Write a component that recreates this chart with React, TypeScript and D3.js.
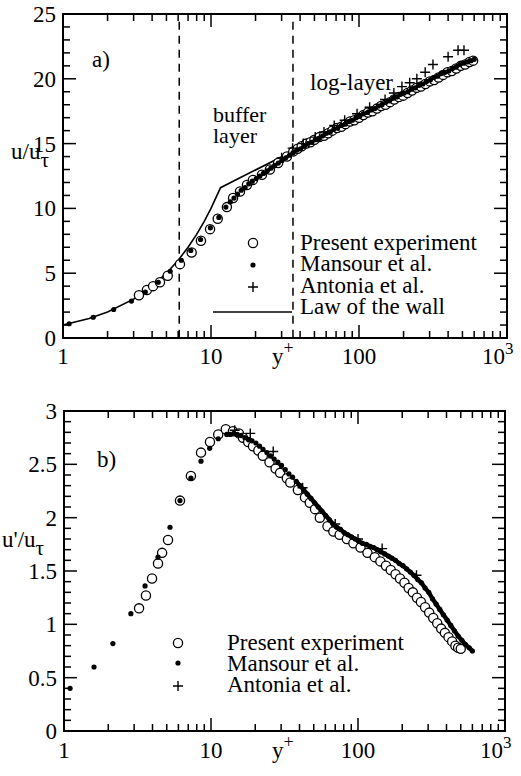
import React from 'react';
import * as d3 from 'd3';

// ---------- data: panel a) mean velocity ----------
const presentTop: [number, number][] = [
  [3.26, 3.3], [3.69, 3.7], [4.06, 4.0], [4.52, 4.3], [5.1, 4.8], [6.17, 5.7], [7.4, 6.6], [8.55, 7.5],
  [9.85, 8.4], [11.1, 9.2], [12.8, 10.1], [14.1, 10.8], [15.7, 11.3], [17.5, 11.8], [19.2, 12.2], [22.1, 12.6],
  [25, 13.0], [28.4, 13.5], [32.6, 14.0], [36, 14.4], [38.5, 14.6], [41, 14.8], [44, 15.0], [47, 15.1],
  [50, 15.3], [54, 15.5], [58, 15.6], [62, 15.8], [66, 16.0], [71, 16.2], [76, 16.3], [81, 16.5],
  [87, 16.7], [93, 16.8], [100, 17.0], [107, 17.2], [115, 17.4], [123, 17.5], [132, 17.7], [141, 17.9],
  [151, 18.0], [162, 18.2], [173, 18.4], [186, 18.6], [199, 18.7], [213, 18.9], [228, 19.1], [245, 19.3],
  [262, 19.4], [281, 19.6], [301, 19.8], [322, 19.9], [345, 20.1], [370, 20.3], [396, 20.5], [424, 20.6],
  [454, 20.8], [487, 21.0], [521, 21.1], [558, 21.3], [590, 21.4],
];
const mansourTop: [number, number][] = [
  [1.1, 1.1], [1.6, 1.6], [2.2, 2.2], [2.9, 2.85], [3.6, 3.55], [4.4, 4.3], [5.3, 5.15], [6.3, 6.0],
  [7.3, 6.75], [8.5, 7.6], [9.9, 8.5], [11.3, 9.3], [12.6, 10.1],
  [13.5, 10.5], [14.3, 10.8], [15.1, 11.1], [16, 11.4], [17, 11.6], [18, 11.9], [19, 12.1], [20.2, 12.3],
  [21.4, 12.5], [22.6, 12.7], [24, 12.9], [25.4, 13.1], [26.9, 13.3], [28.5, 13.5], [30.2, 13.7], [32, 13.9],
  [33.9, 14.1], [35.9, 14.3], [38, 14.5], [40.3, 14.6], [42.7, 14.8], [45.2, 15.0], [47.9, 15.1], [50.7, 15.3],
  [53.7, 15.4], [56.9, 15.6], [60.3, 15.8], [63.9, 15.9], [67.7, 16.1], [71.7, 16.2], [76, 16.4], [80.5, 16.5],
  [85.3, 16.7], [90.3, 16.8], [95.7, 17.0], [101, 17.1], [107, 17.3], [114, 17.4], [121, 17.6], [128, 17.7],
  [135, 17.9], [143, 18.0], [152, 18.2], [161, 18.3], [170, 18.5], [180, 18.6], [191, 18.8], [202, 18.9],
  [214, 19.0], [227, 19.2], [240, 19.3], [255, 19.5], [270, 19.6], [286, 19.8], [303, 19.9], [321, 20.1],
  [340, 20.2], [360, 20.4], [381, 20.5], [404, 20.6], [428, 20.8], [453, 20.9], [480, 21.1], [509, 21.2],
  [539, 21.3], [571, 21.4], [600, 21.5],
];
const antoniaTop: [number, number][] = [
  [30, 13.9], [35.6, 14.65], [42, 15.0], [50.6, 15.5], [58, 15.9], [68, 16.4], [80, 16.8], [97, 17.3],
  [118, 17.8], [150, 18.4], [172, 18.9], [195, 19.4], [220, 19.7], [246, 20.0], [280, 20.5], [316, 21.1],
  [400, 21.7], [467, 22.2], [512, 22.2],
];
const lawOfWall: [number, number][] = [
  [1, 1], [1.5, 1.5], [2, 2], [3, 3], [4, 4], [5, 5], [6, 6], [7, 7], [8, 8], [9, 9], [10, 10], [11.6, 11.6], [600, 21.5],
];
const layerBounds = [6.1, 35.8];

// ---------- data: panel b) rms velocity ----------
const presentBot: [number, number][] = [
  [3.24, 1.15], [3.61, 1.27], [3.97, 1.43], [4.36, 1.57], [4.65, 1.67], [5.1, 1.79], [6.15, 2.16], [7.3, 2.39],
  [8.55, 2.61], [9.84, 2.71], [11.2, 2.78], [12.6, 2.83], [14.1, 2.81], [15.5, 2.79], [16.5, 2.75], [17.9, 2.71],
  [19.3, 2.67], [21, 2.63], [22.5, 2.58], [25, 2.52], [27.5, 2.46], [29.5, 2.42], [32.8, 2.37], [34.6, 2.33],
  [39, 2.26], [43.6, 2.19], [47, 2.14], [51, 2.08], [55, 2.0], [62, 1.92], [68, 1.87], [75, 1.84],
  [84, 1.8], [93, 1.76], [104, 1.72], [116, 1.67], [130, 1.63], [142, 1.59], [155, 1.55], [167, 1.51],
  [180, 1.47], [193, 1.43], [207, 1.39], [221, 1.34], [236, 1.3], [252, 1.25], [268, 1.21], [286, 1.16],
  [305, 1.11], [325, 1.06], [346, 1.01], [368, 0.96], [390, 0.92], [413, 0.88], [437, 0.84], [460, 0.8],
  [480, 0.78], [500, 0.77],
];
const mansourBot: [number, number][] = [
  [1.1, 0.4], [1.6, 0.6], [2.15, 0.82], [2.85, 1.1], [3.56, 1.36], [4.36, 1.63], [5.26, 1.91], [6.15, 2.16],
  [7.3, 2.37], [8.55, 2.53], [9.8, 2.65], [11.2, 2.74], [12.8, 2.78],
  [13.5, 2.78], [14.3, 2.79], [15.1, 2.78], [16, 2.77], [17, 2.75], [18, 2.73], [19, 2.72], [20.2, 2.7],
  [21.4, 2.67], [22.6, 2.64], [24, 2.61], [25.4, 2.58], [26.9, 2.55], [28.5, 2.52], [30.2, 2.49], [32, 2.45],
  [33.9, 2.41], [35.9, 2.38], [38, 2.34], [40.3, 2.3], [42.7, 2.26], [45.2, 2.22], [47.9, 2.18], [50.7, 2.14],
  [53.7, 2.1], [56.9, 2.06], [60.3, 2.02], [63.9, 1.98], [67.7, 1.94], [71.7, 1.91], [76, 1.89], [80.5, 1.86],
  [85.3, 1.84], [90.3, 1.82], [95.7, 1.8], [101, 1.78], [107, 1.76], [114, 1.75], [121, 1.73], [128, 1.72],
  [135, 1.7], [143, 1.68], [152, 1.66], [161, 1.64], [170, 1.62], [180, 1.6], [191, 1.57], [202, 1.55],
  [214, 1.52], [227, 1.49], [240, 1.46], [255, 1.42], [270, 1.39], [286, 1.34], [303, 1.3], [321, 1.24],
  [340, 1.19], [360, 1.14], [381, 1.09], [404, 1.04], [428, 0.99], [453, 0.94], [480, 0.89], [509, 0.85],
  [539, 0.81], [571, 0.78], [600, 0.75],
];
const antoniaBot: [number, number][] = [
  [14.5, 2.82], [18.5, 2.79], [26.5, 2.62], [42, 2.28], [70, 1.94], [100, 1.8], [146, 1.71], [250, 1.46],
];
// index from which the DNS points are so dense that they merge into a solid band
const denseFrom = 13;

// ---------- axes ----------
const xTickLabels = ['1', '10', '100'];
const xTickValues = [1, 10, 100];
const topYTicks = [0, 5, 10, 15, 20, 25];
const botYTicks = [0, 0.5, 1, 1.5, 2, 2.5, 3];
const botYTickLabels = ['0', '0.5', '1', '1.5', '2', '2.5', '3'];
const legendTop = ['Present experiment', 'Mansour et al.', 'Antonia et al.', 'Law of the wall'];
const legendBot = ['Present experiment', 'Mansour et al.', 'Antonia et al.'];

const FONT = 'Liberation Serif, Times New Roman, serif';
const FS = 23;

type Box = { L: number; R: number; T: number; B: number };

const minorX: number[] = [];
[1, 10, 100].forEach((d) => { for (let m = 2; m <= 9; m++) minorX.push(d * m); });

function Frame({ box, sx, sy, yMajor, yMinor }: { box: Box; sx: any; sy: any; yMajor: number[]; yMinor: number[] }) {
  const { L, R, T, B } = box;
  const maj = 13, mnr = 7;
  const lines: any[] = [];
  let k = 0;
  const add = (x1: number, y1: number, x2: number, y2: number) =>
    lines.push(<line key={k++} x1={x1} y1={y1} x2={x2} y2={y2} stroke="#000" strokeWidth={1.5} />);
  yMajor.forEach((v) => { const y = sy(v); add(L, y, L + maj, y); add(R, y, R - maj, y); });
  yMinor.forEach((v) => { const y = sy(v); add(L, y, L + mnr, y); add(R, y, R - mnr, y); });
  [10, 100].forEach((v) => { const x = sx(v); add(x, B, x, B - maj); add(x, T, x, T + maj); });
  minorX.forEach((v) => { const x = sx(v); add(x, B, x, B - mnr); add(x, T, x, T + mnr); });
  return (
    <g>
      {lines}
      <rect x={L} y={T} width={R - L} height={B - T} fill="none" stroke="#000" strokeWidth={2} />
    </g>
  );
}

const Circ = ({ x, y }: { x: number; y: number }) => (
  <circle cx={x} cy={y} r={4.6} fill="#fff" stroke="#000" strokeWidth={1.3} />
);
const Dot = ({ x, y }: { x: number; y: number }) => <circle cx={x} cy={y} r={2.6} fill="#000" />;
const Plus = ({ x, y }: { x: number; y: number }) => (
  <path d={`M${x - 5},${y}H${x + 5}M${x},${y - 5}V${y + 5}`} stroke="#000" strokeWidth={1.4} fill="none" />
);

function XLabels({ sx, base }: { sx: any; base: number }) {
  return (
    <g fontFamily={FONT} fontSize={FS}>
      {xTickValues.map((v, i) => (
        <text key={i} x={sx(v)} y={base} textAnchor="middle">{xTickLabels[i]}</text>
      ))}
      <text x={sx(1000) - 25} y={base}>10<tspan dy={-10} fontSize={17}>3</tspan></text>
      <text x={272} y={base}>y<tspan dy={-10} fontSize={18}>+</tspan></text>
    </g>
  );
}

export default function App() {
  const topBox: Box = { L: 63, R: 507, T: 14, B: 338 };
  const botBox: Box = { L: 64, R: 505, T: 411, B: 731 };
  const sxT = d3.scaleLog().domain([1, 1000]).range([topBox.L, topBox.R]);
  const syT = d3.scaleLinear().domain([0, 25]).range([topBox.B, topBox.T]);
  const sxB = d3.scaleLog().domain([1, 1000]).range([botBox.L, botBox.R]);
  const syB = d3.scaleLinear().domain([0, 3]).range([botBox.B, botBox.T]);

  const topMinor = d3.range(0, 26).filter((v) => v % 5 !== 0);
  const botMinor = d3.range(0, 31).filter((v) => v % 5 !== 0).map((v) => v / 10);

  const lineT = d3.line<[number, number]>().x((d) => sxT(d[0])).y((d) => syT(d[1]));
  const lineB = d3.line<[number, number]>().x((d) => sxB(d[0])).y((d) => syB(d[1]));

  return (
    <svg width={521} height={776} style={{ position: 'absolute', left: 0, top: 0, background: '#fff' }}>
      <rect width={521} height={776} fill="#fff" />
      {/* ---------- panel a ---------- */}
      <Frame box={topBox} sx={sxT} sy={syT} yMajor={topYTicks} yMinor={topMinor} />
      {layerBounds.map((v, i) => (
        <line key={i} x1={sxT(v)} x2={sxT(v)} y1={syT(24.4)} y2={topBox.B} stroke="#000" strokeWidth={1.5} strokeDasharray="8,6" />
      ))}
      <path d={lineT(lawOfWall) || ''} fill="none" stroke="#000" strokeWidth={1.6} />
      {presentTop.map((d, i) => <Circ key={i} x={sxT(d[0])} y={syT(d[1])} />)}
      <path d={lineT(mansourTop.slice(denseFrom + 10)) || ''} fill="none" stroke="#000" strokeWidth={3.2} strokeLinejoin="round" strokeLinecap="round" />
      {mansourTop.map((d, i) => <Dot key={i} x={sxT(d[0])} y={syT(d[1])} />)}
      {antoniaTop.map((d, i) => <Plus key={i} x={sxT(d[0])} y={syT(d[1])} />)}
      <g fontFamily={FONT} fontSize={FS}>
        {topYTicks.map((v) => (
          <text key={v} x={topBox.L - 7} y={syT(v) + 8} textAnchor="end">{v}</text>
        ))}
        <text x={11} y={159}>u/u<tspan dy={8} fontSize={21}>τ</tspan></text>
        <text x={92} y={67}>a)</text>
        <text x={213} y={122} fontSize={22}>buffer</text>
        <text x={213} y={143} fontSize={22}>layer</text>
        <text x={310} y={90}>log-layer</text>
        {legendTop.map((t, i) => (
          <text key={i} x={300} y={250 + i * 21.3}>{t}</text>
        ))}
      </g>
      <Circ x={253} y={243} />
      <Dot x={253} y={265} />
      <Plus x={253} y={287} />
      <line x1={213} x2={292} y1={312} y2={312} stroke="#000" strokeWidth={1.6} />
      <XLabels sx={sxT} base={topBox.B + 26} />

      {/* ---------- panel b ---------- */}
      <Frame box={botBox} sx={sxB} sy={syB} yMajor={botYTicks} yMinor={botMinor} />
      {presentBot.map((d, i) => <Circ key={i} x={sxB(d[0])} y={syB(d[1])} />)}
      <path d={lineB(mansourBot.slice(denseFrom + 18)) || ''} fill="none" stroke="#000" strokeWidth={4.4} strokeLinejoin="round" strokeLinecap="round" />
      {mansourBot.map((d, i) => <Dot key={i} x={sxB(d[0])} y={syB(d[1])} />)}
      {antoniaBot.map((d, i) => <Plus key={i} x={sxB(d[0])} y={syB(d[1])} />)}
      <g fontFamily={FONT} fontSize={FS}>
        {botYTicks.map((v, i) => (
          <text key={v} x={botBox.L - 7} y={syB(v) + 8} textAnchor="end">{botYTickLabels[i]}</text>
        ))}
        <text x={2} y={547}>u'/u<tspan dy={8} fontSize={21}>τ</tspan></text>
        <text x={97} y={467}>b)</text>
        {legendBot.map((t, i) => (
          <text key={i} x={227} y={650 + i * 21}>{t}</text>
        ))}
      </g>
      <Circ x={178} y={643} />
      <Dot x={178} y={663} />
      <Plus x={178} y={686} />
      <XLabels sx={sxB} base={botBox.B + 27} />
    </svg>
  );
}
